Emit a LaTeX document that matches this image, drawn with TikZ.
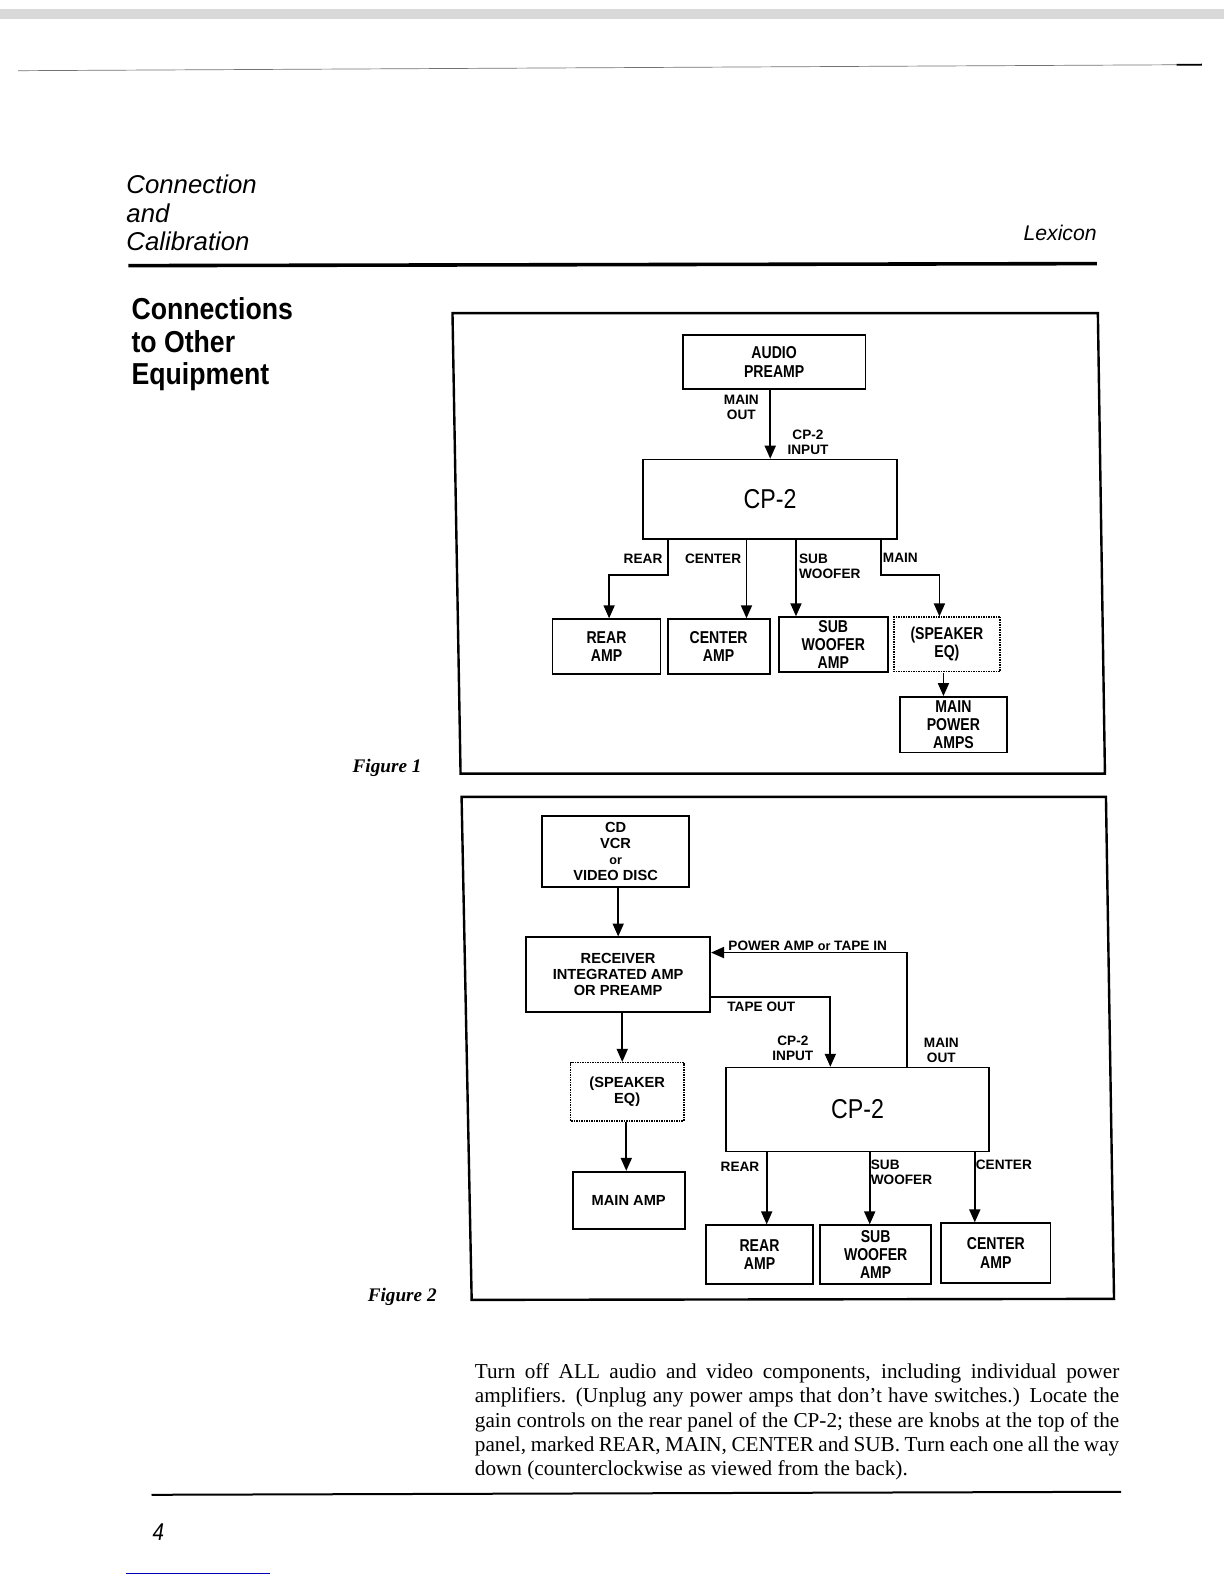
\documentclass[tikz,border=0pt]{standalone}
\usepackage{fontspec}
\setmainfont{Liberation Serif}
\newfontfamily\sansfont{Liberation Sans}
\newfontfamily\narrowfont[FakeStretch=0.85]{Liberation Sans}
\newfontfamily\boldnarrowfont[FakeStretch=0.82]{Liberation Sans Bold}
\newfontfamily\condfont[FakeStretch=0.88]{Liberation Sans}
\usetikzlibrary{arrows.meta}
\newcommand{\myboxfont}{\boldnarrowfont\fontsize{17}{18}\selectfont}
\newcommand{\mylblfont}{\sansfont\bfseries\fontsize{13.5}{15}\selectfont}
\newcommand{\mybboxfont}{\sansfont\bfseries\fontsize{14.5}{16}\selectfont}
\newcommand{\smallor}{{\fontsize{12.5}{12.5}\selectfont or}}
\begin{document}
\begin{tikzpicture}[x=1pt,y=-1pt,scale=1.01,every node/.append style={transform shape},
  box/.style={draw, line width=1.8pt, inner sep=0pt, align=center, font=\myboxfont},
  bbox/.style={box, font=\mybboxfont},
  dbox/.style={box, line width=1.5pt, densely dotted},
  sz/.style 2 args={minimum width=#1pt, minimum height=#2pt},
  conn/.style={line width=1.8pt},
  arr/.style={conn, -{Triangle[width=11pt,length=13pt]}},
  lbl/.style={font=\mylblfont, inner sep=0pt, align=center},
  frame/.style={line width=2.4pt, line join=miter},
  hdr/.style={anchor=base west, inner sep=0pt},
  body/.style={hdr, font=\fontsize{21}{24}\selectfont},
]
\useasboundingbox (0,0) rectangle (1211.88,1568.32);
\fill[white] (0,0) rectangle (1211.88,1568.32);

% scan artefacts and rules
\fill[black!15] (0,9) rectangle (1211.88,19);
\draw[black!55, line width=0.7pt] (18,70) -- (1190,64);
\draw[line width=1.8pt] (1165,64.2) -- (1190,64);
\draw[line width=3.6pt] (127,263) -- (1086,261);
\draw[line width=2pt] (150,1480) -- (1110,1477);
\draw[blue!70!black, line width=1pt] (125,1558) -- (267,1558);

% header
\node[hdr, font=\sansfont\itshape\fontsize{25.5}{28}\selectfont] (h1) at (125,192) {Connection};
\node[hdr, font=\sansfont\itshape\fontsize{25.5}{28}\selectfont] (h2) at (125,220) {and};
\node[hdr, font=\sansfont\itshape\fontsize{25.5}{28}\selectfont] (h3) at (125,248) {Calibration};
\node[anchor=base east, inner sep=0pt, font=\sansfont\itshape\fontsize{21}{24}\selectfont] (lex) at (1086,238) {Lexicon};
\node[hdr, font=\condfont\bfseries\fontsize{30}{32}\selectfont] (s1) at (130,316) {Connections};
\node[hdr, font=\condfont\bfseries\fontsize{30}{32}\selectfont] (s2) at (130,349) {to Other};
\node[hdr, font=\condfont\bfseries\fontsize{30}{32}\selectfont] (s3) at (130,381) {Equipment};

% figure frames and captions
\draw[frame] (448,310) -- (1087,310) -- (1094,766) -- (456,766) -- cycle;
\draw[frame] (457,789) -- (1095,789) -- (1103,1286) -- (467,1287) -- cycle;
\node[hdr, font=\bfseries\itshape\fontsize{19}{22}\selectfont] (fig1) at (349,765) {Figure 1};
\node[hdr, font=\bfseries\itshape\fontsize{19}{22}\selectfont] (fig2) at (364,1289) {Figure 2};

% ---------- Figure 1 ----------
\node[box, sz={181}{53}] (pre) at (766.5,358.5) {AUDIO\\PREAMP};
\node[box, sz={251}{79}, font=\narrowfont\fontsize{27}{27}\selectfont] (cp1) at (762.5,494.5) {CP-2};
\node[box, sz={107}{54}] (rear1) at (600.5,640) {REAR\\AMP};
\node[box, sz={101}{54}] (cen1) at (711.5,640) {CENTER\\AMP};
\node[box, sz={108}{54}] (sub1) at (825,638) {SUB\\WOOFER\\AMP};
\node[dbox, sz={105}{54}] (eq1) at (937.5,638) {(SPEAKER\\EQ)};
\node[box, sz={106}{55}] (mpa1) at (944,717.5) {MAIN\\POWER\\AMPS};

\draw[arr] (pre.south -| cp1.north) -- (cp1.north);
\coordinate (rb1) at (661,569);
\coordinate (rb2) at (603,569);
\draw[arr] (cp1.south -| rb1) -- (rb1) -- (rb2) -- (rear1.north -| rb2);
\coordinate (cx1) at (739,0);
\draw[arr] (cp1.south -| cx1) -- (cen1.north -| cx1);
\coordinate (sx1) at (788,0);
\draw[arr] (cp1.south -| sx1) -- (sub1.north -| sx1);
\coordinate (mb1) at (872,569);
\coordinate (mb2) at (930,569);
\draw[arr] (cp1.south -| mb1) -- (mb1) -- (mb2) -- (eq1.north -| mb2);
\coordinate (ex1) at (934,0);
\draw[arr] (eq1.south -| ex1) -- (mpa1.north -| ex1);

\node[lbl] (lmo1) at (734,403.5) {MAIN\\OUT};
\node[lbl] (lci1) at (800,437.5) {CP-2\\INPUT};
\node[lbl, anchor=east] (lr1) at (656,553) {REAR};
\node[lbl, anchor=east] (lc1) at (734,553) {CENTER};
\node[lbl, anchor=west, align=left] (ls1) at (791,561) {SUB\\WOOFER};
\node[lbl, anchor=west] (lm1) at (874,552) {MAIN};

% ---------- Figure 2 ----------
\node[bbox, sz={145}{70}] (src) at (609.5,843) {CD\\VCR\\\smallor\\VIDEO DISC};
\node[bbox, sz={182}{74}] (rcv) at (612,965) {RECEIVER\\INTEGRATED AMP\\OR PREAMP};
\node[dbox, sz={112}{58}, font=\mybboxfont] (eq2) at (621,1081) {(SPEAKER\\EQ)};
\node[bbox, sz={111}{57}] (ma2) at (622.5,1188.5) {MAIN AMP};
\node[box, sz={260}{83}, font=\narrowfont\fontsize{27}{27}\selectfont] (cp2) at (849,1098.5) {CP-2};
\node[box, sz={106}{58}] (rear2) at (752,1242) {REAR\\AMP};
\node[box, sz={110}{58}] (sub2) at (867,1242) {SUB\\WOOFER\\AMP};
\node[box, sz={108}{59}] (cen2) at (986,1240.5) {CENTER\\AMP};

\coordinate (a612) at (612,0);
\draw[arr] (src.south -| a612) -- (rcv.north -| a612);
\coordinate (a616) at (616,0);
\draw[arr] (rcv.south -| a616) -- (eq2.north -| a616);
\coordinate (a620) at (620,0);
\draw[arr] (eq2.south -| a620) -- (ma2.north -| a620);
\coordinate (mo1) at (898,943);
\draw[arr] (cp2.north -| mo1) -- (mo1) -- (rcv.east |- mo1);
\coordinate (to1) at (822,987);
\draw[arr] (rcv.east |- to1) -- (to1) -- (cp2.north -| to1);
\coordinate (a759) at (759,0);
\draw[arr] (cp2.south -| a759) -- (rear2.north -| a759);
\coordinate (a861) at (861,0);
\draw[arr] (cp2.south -| a861) -- (sub2.north -| a861);
\coordinate (a965) at (965,0);
\draw[arr] (cp2.south -| a965) -- (cen2.north -| a965);

\node[lbl, anchor=west] (lpa) at (721,936) {POWER AMP \smallor\ TAPE IN};
\node[lbl, anchor=west] (lto) at (720,997) {TAPE OUT};
\node[lbl] (lci2) at (785,1038) {CP-2\\INPUT};
\node[lbl] (lmo2) at (932,1040) {MAIN\\OUT};
\node[lbl, anchor=east] (lr2) at (752,1155) {REAR};
\node[lbl, anchor=west, align=left] (ls2) at (862,1161) {SUB\\WOOFER};
\node[lbl, anchor=west] (lc2) at (966,1153) {CENTER};

% ---------- body text ----------
\node[body] (t1) at (470,1365) {\makebox[638pt][s]{Turn off ALL audio and video components, including individual power}};
\node[body] (t2) at (470,1389) {\makebox[638pt][s]{amplifiers. (Unplug any power amps that don’t have switches.) Locate the}};
\node[body] (t3) at (470,1413) {\makebox[638pt][s]{gain controls on the rear panel of the CP-2; these are knobs at the top of the}};
\node[body] (t4) at (470,1437) {\makebox[638pt][s]{panel, marked REAR, MAIN, CENTER and SUB. Turn each one all the way}};
\node[body] (t5) at (470,1461) {down (counterclockwise as viewed from the back).};

% page number
\node[hdr, font=\narrowfont\itshape\fontsize{24}{24}\selectfont] (pg) at (151,1525) {4};
\end{tikzpicture}
\end{document}
